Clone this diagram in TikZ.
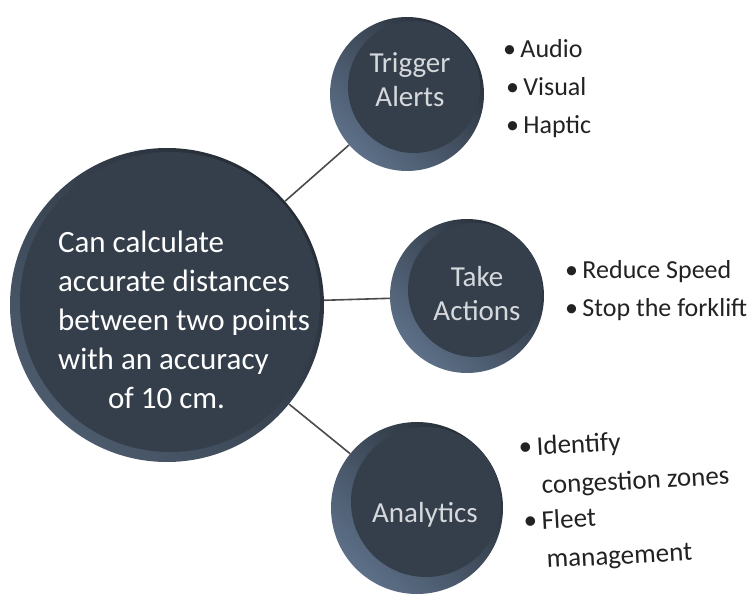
\documentclass[tikz,border=0pt]{standalone}
\usepackage{fontspec}
\setmainfont{Carlito}
\definecolor{discdark}{HTML}{353F4B}
\definecolor{rimlight}{HTML}{5D7088}
\definecolor{rimdark}{HTML}{262D36}
\definecolor{bigrimlight}{HTML}{4C5B6D}
\definecolor{lblc}{HTML}{D5D8DC}
\definecolor{linec}{HTML}{4A4A4A}
\definecolor{bulc}{HTML}{222222}
\tikzset{
  rim/.style={circle, inner sep=0pt, draw=none, top color=rimdark, bottom color=rimlight, shading angle=-45},
  disc/.style={circle, inner sep=0pt, fill=discdark, draw=none},
  lbl/.style={text=lblc, font=\fontsize{29}{34}\selectfont, align=center, inner sep=0pt},
  bigtxt/.style={text=white, font=\fontsize{31}{39}\selectfont, align=left, inner sep=0pt},
  bullist/.style={text=bulc, font=\fontsize{26}{38}\selectfont, align=left, anchor=west, inner sep=0pt},
  bulline/.style={text=bulc, font=\fontsize{27}{30}\selectfont, anchor=base west, inner sep=0pt, rotate=3},
  conn/.style={draw=linec, line width=1.6pt}
}
\begin{document}
\begin{tikzpicture}[x=1pt,y=-1pt]
\useasboundingbox (0,0) rectangle (753,604);
% big circle
\node[rim, bottom color=bigrimlight, shading angle=-45, minimum size=314pt] (big) at (167,305) {};
\node[disc, minimum size=300pt] (bigin) at (170,302) {};
\node[bigtxt] (bigtext) at (184,320) {Can calculate\\accurate distances\\between two points\\with an accuracy\\\hspace*{50pt}of 10 cm.};
% trigger alerts
\node[rim, minimum size=154pt] (trig) at (407,94) {};
\node[disc, minimum size=132pt] (trigin) at (414,87) {};
\node[lbl] (trigtext) at (410,80) {Trigger\\Alerts};
% take actions
\node[rim, minimum size=154pt] (take) at (467,296) {};
\node[disc, minimum size=134pt] (takein) at (475,290) {};
\node[lbl] (taketext) at (477,294) {Take\\Actions};
% analytics
\node[rim, minimum size=172pt] (ana) at (417,508) {};
\node[disc, minimum size=150pt] (anain) at (426,502) {};
\node[lbl] (anatext) at (425,515) {Analytics};
% connectors
\draw[conn] (big) -- (trig);
\draw[conn] (big) -- (take);
\draw[conn] (big) -- (ana);
% bullet lists
\node[bullist] (trigbul) at (503,89) {•\,Audio\\\hspace*{3pt}•\,Visual\\\hspace*{3pt}•\,Haptic};
\node[bullist] (takebul) at (565,291) {•\,Reduce Speed\\•\,Stop the forklift};
\node[bulline] (anab1) at (519,456) {•\,Identify};
\node[bulline] (anab2) at (542,494) {congestion zones};
\node[bulline] (anab3) at (524,530) {•\,Fleet};
\node[bulline] (anab4) at (547,568) {management};
\end{tikzpicture}
\end{document}
